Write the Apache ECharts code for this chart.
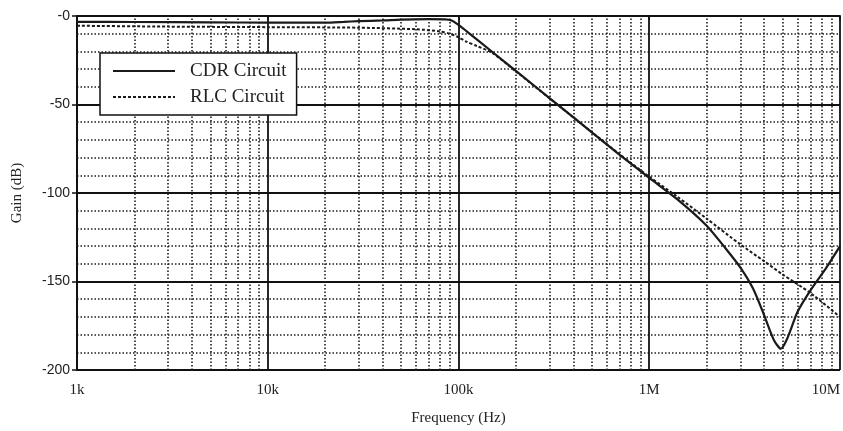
<!DOCTYPE html>
<html>
<head>
<meta charset="utf-8">
<script src="https://cdn.jsdelivr.net/npm/echarts@6/dist/echarts.min.js"></script>
<style>
  html, body { margin: 0; padding: 0; background: #fff; }
  #chart { width: 843px; height: 431px; }
</style>
</head>
<body>
<div id="chart"></div>
<script>
// Frequency response of the two filter circuits (gain in dB against frequency in Hz)
const cdrFreq = [1000, 2000, 5000, 10000, 20000, 25000, 30000, 40000, 50000, 70000, 85000, 92000,
  100000, 110000, 150000, 200000, 300000, 500000, 700000, 1000000, 1400000, 2000000, 2500000,
  3000000, 3500000, 4000000, 4500000, 4900000, 5300000, 6000000, 7000000, 8500000, 10000000];
const cdrGain = [-3.3, -3.4, -3.6, -3.7, -3.7, -3.3, -2.9, -2.5, -2.0, -1.8, -1.9, -2.5,
  -5.0, -8.5, -20.2, -31.0, -46.4, -65.7, -78.4, -91.5, -103.5, -118.5, -131.0,
  -142.0, -154.0, -169.0, -183.0, -188.0, -182.0, -167.0, -155.0, -142.0, -130.0];

const rlcFreq = [1000, 3000, 10000, 30000, 60000, 80000, 90000, 100000, 110000, 125000, 150000,
  200000, 300000, 500000, 700000, 1000000, 1400000, 2000000, 3000000, 4000000, 5000000, 7000000, 10000000];
const rlcGain = [-5.5, -6.0, -6.3, -6.6, -7.5, -8.7, -10.0, -12.0, -14.5, -17.0, -20.8,
  -31.3, -46.5, -65.6, -78.2, -90.8, -102.0, -114.5, -129.0, -138.5, -146.0, -156.5, -170.0];

// Decade tick labels and the minor (2..9 x decade) grid frequencies
const xTickLabels = { 1000: '1k', 10000: '10k', 100000: '100k', 1000000: '1M', 10000000: '10M' };
const yTickLabels = { '-200': '-200', '-150': '-150', '-100': '-100', '-50': '-50', '0': '-0' };
const decades = [1000, 10000, 100000, 1000000];
const minorMultipliers = [2, 3, 4, 5, 6, 7, 8, 9];

const minorX = [];
decades.forEach(d => minorMultipliers.forEach(m => minorX.push({ xAxis: d * m })));

const zip = (xs, ys) => xs.map((x, i) => [x, ys[i]]);
const dotted = { color: '#1e1e1e', width: 1.6, type: [1.5, 2] };

const chart = echarts.init(document.getElementById('chart'), null, { renderer: 'canvas' });
chart.setOption({
  animation: false,
  backgroundColor: '#ffffff',
  grid: { left: 77, right: 1, top: 16, bottom: 55, containLabel: false },
  xAxis: {
    type: 'log',
    logBase: 10,
    min: 1000,
    max: 10000000,
    name: 'Frequency (Hz)',
    nameLocation: 'middle',
    nameGap: 41,
    nameTextStyle: { fontFamily: 'Liberation Serif', fontSize: 15, color: '#222' },
    axisLine: { show: true, lineStyle: { color: '#111', width: 2 } },
    axisTick: { show: true, length: 4, lineStyle: { color: '#111', width: 1.5 } },
    axisLabel: {
      fontFamily: 'Liberation Serif', fontSize: 15, color: '#222', margin: 13,
      alignMaxLabel: 'right',
      formatter: v => xTickLabels[Math.round(v)] || ''
    },
    splitLine: { show: true, lineStyle: { color: '#111', width: 1.8 } }
  },
  yAxis: {
    type: 'value',
    min: -200,
    max: 0,
    interval: 50,
    name: 'Gain (dB)',
    nameLocation: 'middle',
    nameGap: 52,
    nameTextStyle: { fontFamily: 'Liberation Serif', fontSize: 15, color: '#222' },
    axisLine: { show: true, lineStyle: { color: '#111', width: 2 } },
    axisTick: { show: true, length: 5, lineStyle: { color: '#111', width: 1.5 } },
    axisLabel: {
      fontFamily: 'Liberation Sans', fontSize: 14, color: '#222', margin: 7,
      formatter: v => yTickLabels[String(v)] || String(v)
    },
    splitLine: { show: true, lineStyle: { color: '#111', width: 1.8 } },
    minorTick: { show: false, splitNumber: 5 },
    minorSplitLine: { show: true, lineStyle: dotted }
  },
  legend: {
    data: ['CDR Circuit', 'RLC Circuit'],
    orient: 'vertical',
    left: 100,
    top: 53,
    padding: [8, 10, 8, 12],
    itemWidth: 62,
    itemHeight: 14,
    itemGap: 6,
    itemStyle: { opacity: 0 },
    backgroundColor: '#ffffff',
    borderColor: '#111',
    borderWidth: 1.5,
    borderRadius: 0,
    z: 10,
    textStyle: {
      fontFamily: 'Liberation Serif', fontSize: 19, color: '#222',
      lineHeight: 20, padding: [0, 0, 0, 10]
    }
  },
  series: [
    {
      // vertical dotted grid at 2..9 of each decade
      name: 'minor-grid',
      type: 'line',
      data: [],
      silent: true,
      z: 1,
      markLine: {
        silent: true,
        symbol: ['none', 'none'],
        label: { show: false },
        lineStyle: dotted,
        data: minorX
      }
    },
    {
      name: 'CDR Circuit',
      type: 'line',
      data: zip(cdrFreq, cdrGain),
      showSymbol: false,
      symbol: 'none',
      smooth: 0.25,
      z: 5,
      lineStyle: { color: '#1a1a1a', width: 2.2, type: 'solid' },
      itemStyle: { color: '#1a1a1a' }
    },
    {
      name: 'RLC Circuit',
      type: 'line',
      data: zip(rlcFreq, rlcGain),
      showSymbol: false,
      symbol: 'none',
      smooth: 0.25,
      z: 4,
      lineStyle: { color: '#1a1a1a', width: 2, type: [3, 2] },
      itemStyle: { color: '#1a1a1a' }
    }
  ]
});
</script>
</body>
</html>
